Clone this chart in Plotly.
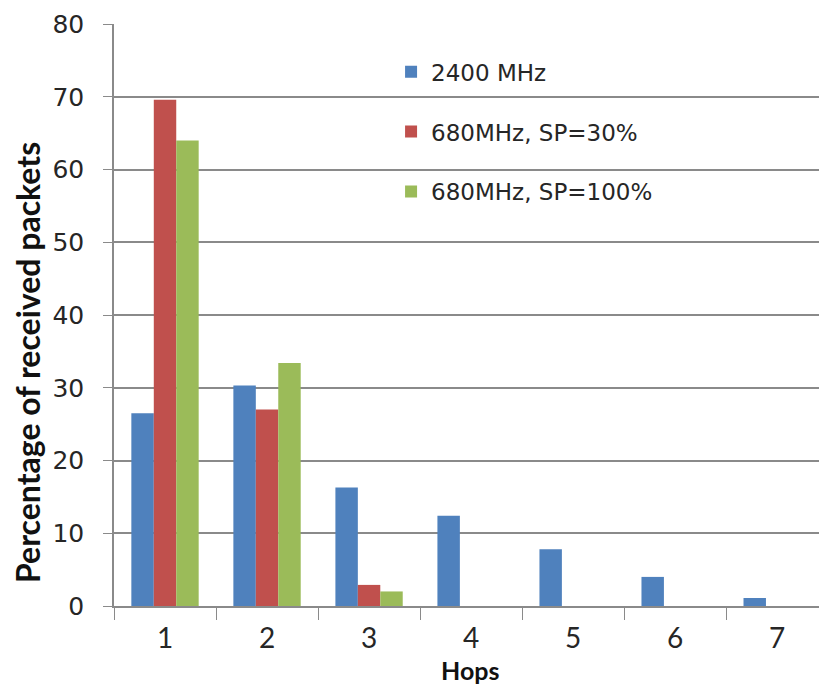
import plotly.graph_objects as go

hops = ["1", "2", "3", "4", "5", "6", "7"]
mhz_2400 = [26.5, 30.3, 16.3, 12.4, 7.8, 4.0, 1.1]
mhz_680_sp30 = [69.6, 27.0, 2.9, 0, 0, 0, 0]
mhz_680_sp100 = [64.0, 33.4, 2.0, 0, 0, 0, 0]

series = [
    ("2400 MHz", mhz_2400, "#4F81BD"),
    ("680MHz, SP=30%", mhz_680_sp30, "#C0504D"),
    ("680MHz, SP=100%", mhz_680_sp100, "#9BBB59"),
]

fig = go.Figure()
for i, (name, vals, color) in enumerate(series):
    fig.add_trace(go.Bar(
        x=hops, y=vals, name=name, legendgroup=f"g{i}",
        marker=dict(color=color, line=dict(width=0)),
    ))

grid = "#8a8a8a"
text_col = "#262626"
fig.update_layout(
    width=819, height=686,
    margin=dict(l=114, r=0, t=24, b=80),
    paper_bgcolor="white", plot_bgcolor="white",
    barmode="group", bargap=0.34, bargroupgap=0,
    font=dict(family="Lato, sans-serif", color=text_col),
    showlegend=True,
    legend=dict(
        x=0.393, y=0.955, xanchor="left", yanchor="top",
        bgcolor="rgba(0,0,0,0)", tracegroupgap=27,
        font=dict(size=23, family="DejaVu Sans, sans-serif", color=text_col),
        itemsizing="constant",
    ),
    xaxis=dict(
        type="category", range=[-0.5, 6.41],
        tickson="boundaries", ticks="outside", ticklen=12, tickcolor=grid,
        showline=True, linecolor=grid, linewidth=1.5,
        showgrid=False,
        ticklabelstandoff=7,
        tickfont=dict(size=28, family="Lato, sans-serif", color=text_col),
    ),
    yaxis=dict(
        range=[0, 80], dtick=10, ticks="outside", ticklen=9, tickcolor=grid,
        showline=True, linecolor=grid, linewidth=1.5,
        showgrid=True, gridcolor=grid, gridwidth=1.5,
        zeroline=False,
        ticklabelstandoff=14,
        tickfont=dict(size=25, family="DejaVu Sans, sans-serif", color=text_col),
    ),
    annotations=[
        dict(text="<b>Percentage of received packets</b>", textangle=-90,
             xref="paper", yref="paper", x=-0.123, y=0.418,
             xanchor="center", yanchor="middle", showarrow=False,
             font=dict(size=32, family="Lato, sans-serif", color="#111")),
        dict(text="<b>Hops</b>",
             xref="paper", yref="paper", x=0.505, y=-0.1375,
             xanchor="center", yanchor="bottom", showarrow=False,
             borderpad=0,
             font=dict(size=25, family="Lato, sans-serif", color="#111")),
    ],
)

fig.write_html("out.html")
